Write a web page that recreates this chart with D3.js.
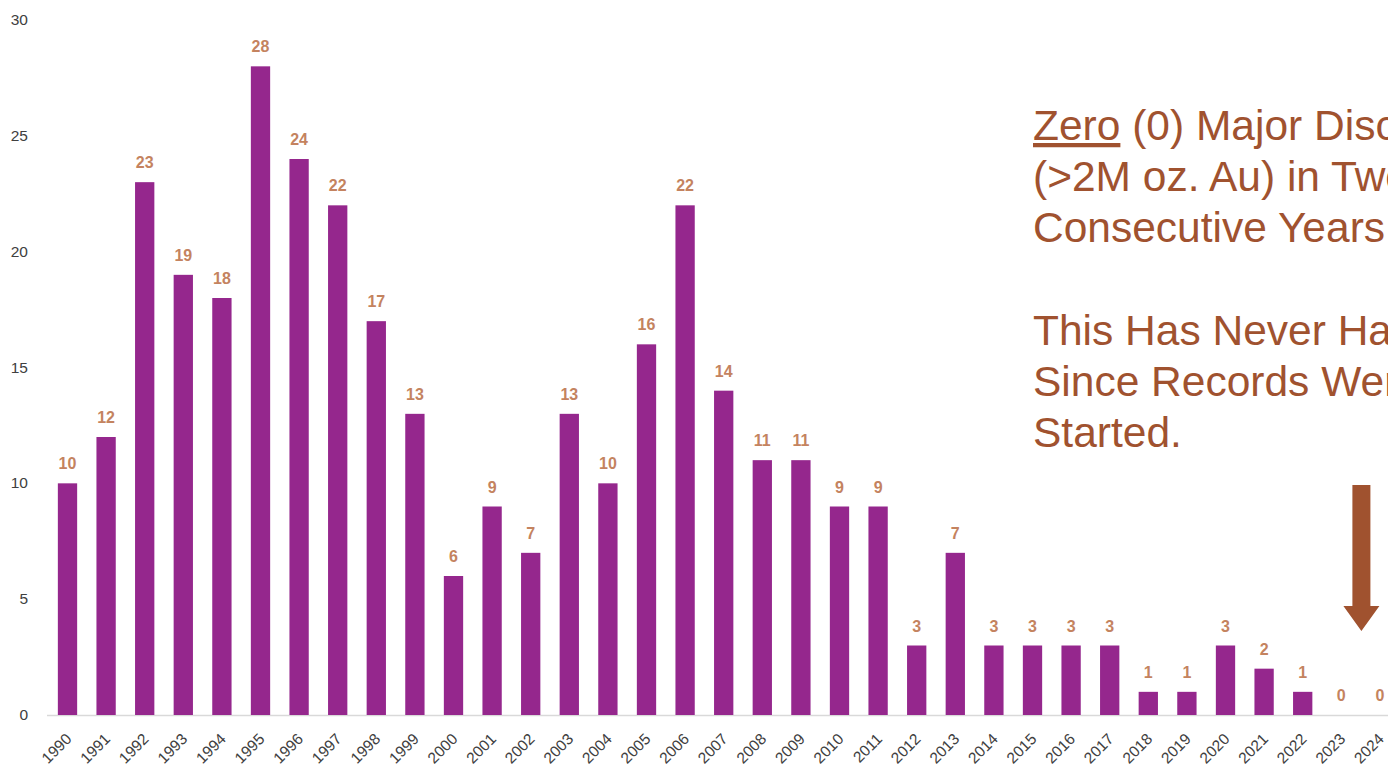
<!DOCTYPE html>
<html><head><meta charset="utf-8">
<script src="https://cdn.jsdelivr.net/npm/d3@7"></script>
<style>
html,body{margin:0;padding:0;background:#fff;overflow:hidden;}
svg{display:block;font-family:"Liberation Sans",Arial,sans-serif;}
</style></head>
<body>
<svg id="chart" width="1388" height="767"></svg>
<script>
const years = ["1990","1991","1992","1993","1994","1995","1996","1997","1998","1999","2000","2001","2002","2003","2004","2005","2006","2007","2008","2009","2010","2011","2012","2013","2014","2015","2016","2017","2018","2019","2020","2021","2022","2023","2024"];
const discoveries = [10,12,23,19,18,28,24,22,17,13,6,9,7,13,10,16,22,14,11,11,9,9,3,7,3,3,3,3,1,1,3,2,1,0,0];
const yTicks = [0,5,10,15,20,25,30];
const noteLines = [
  [{t:"Zero",u:true},{t:" (0) Major Discoveries",u:false}],
  [{t:"(>2M oz. Au) in Two",u:false}],
  [{t:"Consecutive Years",u:false}],
  [],
  [{t:"This Has Never Happened",u:false}],
  [{t:"Since Records Were",u:false}],
  [{t:"Started.",u:false}]
];

const svg = d3.select("#chart");
const x = d3.scaleBand().domain(years).range([48.2, 48.2 + 35*38.6]).paddingInner(0.5).paddingOuter(0.25);
const y = d3.scaleLinear().domain([0,30]).range([715, 20]);

// axis line
svg.append("line").attr("x1",47).attr("x2",1388).attr("y1",y(0)+0.5).attr("y2",y(0)+0.5)
  .attr("stroke","#d9d9d9").attr("stroke-width",1.5);

// y tick labels
svg.append("g").selectAll("text").data(yTicks).join("text")
  .attr("x",28).attr("y",d=>y(d)).attr("dy","0.33em").attr("text-anchor","end")
  .attr("font-size",15.5).attr("fill","#404040").text(d=>d);

// bars
svg.append("g").selectAll("rect").data(years).join("rect")
  .attr("x",d=>x(d)).attr("width",x.bandwidth())
  .attr("y",(d,i)=>y(discoveries[i])).attr("height",(d,i)=>y(0)-y(discoveries[i]))
  .attr("fill","#95278d");

// data labels
svg.append("g").selectAll("text").data(years).join("text")
  .attr("x",d=>x(d)+x.bandwidth()/2).attr("y",(d,i)=>y(discoveries[i])-14)
  .attr("text-anchor","middle").attr("font-size",16).attr("font-weight","bold")
  .attr("fill","#c4835f").text((d,i)=>discoveries[i]);

// x labels
svg.append("g").selectAll("text").data(years).join("text")
  .attr("transform",d=>`translate(${x(d)+x.bandwidth()/2+5},${740}) rotate(-45)`)
  .attr("text-anchor","end").attr("font-size",15.5).attr("fill","#404040").text(d=>d);

// annotation text
const noteColor = "#a0522f";
const nt = svg.append("g");
noteLines.forEach((line,i)=>{
  const t = nt.append("text").attr("x",1033).attr("y",140 + i*51.2)
    .attr("font-size",42.5).attr("fill",noteColor);
  line.forEach(seg=>{
    t.append("tspan").text(seg.t).attr("text-decoration", seg.u ? "underline" : null);
  });
});

// arrow
const ax = x("2024") + x.bandwidth()/2 - 18.5;
const arrow = d3.path();
arrow.moveTo(ax-9, 485);
arrow.lineTo(ax+9, 485);
arrow.lineTo(ax+9, 606);
arrow.lineTo(ax+18, 606);
arrow.lineTo(ax, 631);
arrow.lineTo(ax-18, 606);
arrow.lineTo(ax-9, 606);
arrow.closePath();
svg.append("path").attr("d",arrow.toString()).attr("fill","#a0522f");
</script>
</body></html>
